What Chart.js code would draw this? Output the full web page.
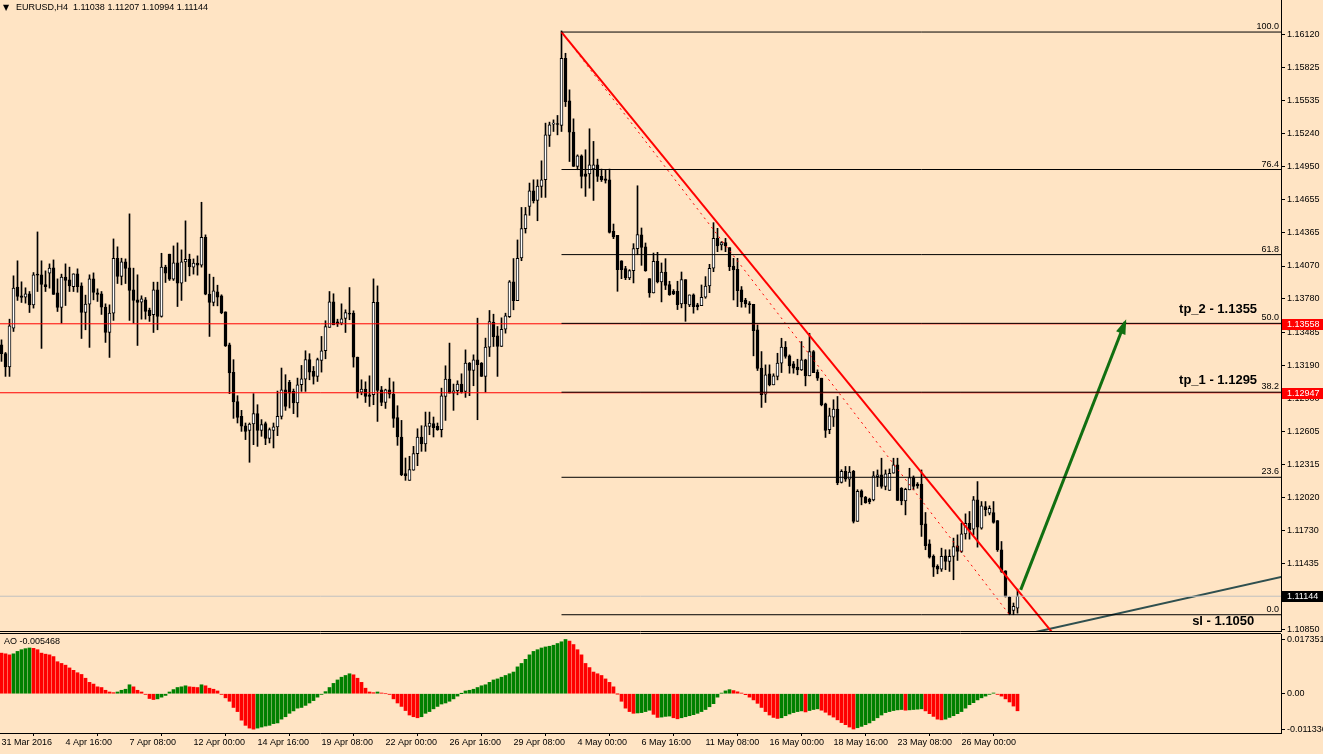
<!DOCTYPE html>
<html>
<head>
<meta charset="utf-8">
<script src="https://cdn.jsdelivr.net/npm/chart.js@4.4.0/dist/chart.umd.min.js"></script>
<style>
    html, body { margin: 0; padding: 0; background: #FFE4C4; overflow: hidden; }
    #wrap { position: relative; width: 1323px; height: 754px; }
    #main { position: absolute; left: 0; top: 0; }
    #ao { position: absolute; left: 0; top: 632px; }
</style>
</head>
<body>
<div id="wrap">
    <canvas id="main" width="1323" height="632"></canvas>
    <canvas id="ao" width="1323" height="122"></canvas>
</div>
<script>
const tickLabels = ['31 Mar 2016', '4 Apr 16:00', '7 Apr 08:00', '12 Apr 00:00', '14 Apr 16:00', '19 Apr 08:00',
    '22 Apr 00:00', '26 Apr 16:00', '29 Apr 08:00', '4 May 00:00', '6 May 16:00', '11 May 08:00',
    '16 May 00:00', '18 May 16:00', '23 May 08:00', '26 May 00:00']
const tickBars = [0, 16, 32, 48, 64, 80, 96, 112, 128, 144, 160, 176, 192, 208, 224, 240]

const priceTicks = [1.16120, 1.15825, 1.15535, 1.15240, 1.14950, 1.14655, 1.14365, 1.14070, 1.13780,
    1.13485, 1.13190, 1.12900, 1.12605, 1.12315, 1.12020, 1.11730, 1.11435, 1.10850]
const aoTicks = [0.017351, 0, -0.011336]

// EURUSD H4 candles, left to right
const opens = [
    1.13372, 1.13293, 1.13175, 1.13520, 1.13883, 1.13806, 1.13794, 1.13824, 1.13726, 1.13992,
    1.13992, 1.13906, 1.14006, 1.14054, 1.13832, 1.13703, 1.13971, 1.13947, 1.13888, 1.14001,
    1.13894, 1.13658, 1.13732, 1.13956, 1.13832, 1.13824, 1.13706, 1.13481, 1.13652, 1.14139,
    1.13977, 1.14107, 1.14054, 1.13859, 1.13770, 1.13750, 1.13770, 1.13679, 1.13638, 1.13859,
    1.13623, 1.14060, 1.14175, 1.13953, 1.14098, 1.13918, 1.14107, 1.14130, 1.14060, 1.14095,
    1.14077, 1.14325, 1.13821, 1.13747, 1.13841, 1.13806, 1.13664, 1.13372, 1.13127, 1.12868,
    1.12738, 1.12655, 1.12614, 1.12670, 1.12762, 1.12614, 1.12673, 1.12543, 1.12614, 1.12644,
    1.12738, 1.12974, 1.13039, 1.12959, 1.12856, 1.13018, 1.13068, 1.13240, 1.13136, 1.13092,
    1.13234, 1.13319, 1.13526, 1.13753, 1.13576, 1.13564, 1.13605, 1.13652, 1.13652, 1.13263,
    1.12953, 1.12979, 1.12929, 1.12929, 1.13749, 1.12974, 1.12861, 1.12974, 1.12935, 1.12726,
    1.12555, 1.12230, 1.12171, 1.12260, 1.12407, 1.12555, 1.12493, 1.12649, 1.12673, 1.12649,
    1.12620, 1.12914, 1.13068, 1.12944, 1.12965, 1.13024, 1.12959, 1.13209, 1.13145, 1.13239,
    1.13209, 1.13092, 1.13351, 1.13572, 1.13451, 1.13357, 1.13510, 1.13622, 1.13929, 1.13764,
    1.14141, 1.14401, 1.14598, 1.14737, 1.14651, 1.14775, 1.14834, 1.15227, 1.15327, 1.15330,
    1.15315, 1.15911, 1.15533, 1.15256, 1.14952, 1.15047, 1.14887, 1.14887, 1.14931, 1.14967,
    1.14864, 1.14843, 1.14834, 1.14377, 1.14342, 1.14117, 1.14047, 1.13964, 1.14029, 1.14224,
    1.14347, 1.14241, 1.13958, 1.13831, 1.14111, 1.13929, 1.14017, 1.13905, 1.13846, 1.13846,
    1.13734, 1.13949, 1.13725, 1.13814, 1.13725, 1.13719, 1.13793, 1.13893, 1.14050, 1.14315,
    1.14256, 1.14277, 1.14233, 1.14070, 1.14041, 1.13858, 1.13769, 1.13731, 1.13731, 1.13504,
    1.13165, 1.12935, 1.13115, 1.13017, 1.13091, 1.13209, 1.13351, 1.13274, 1.13203, 1.13174,
    1.13150, 1.13238, 1.13097, 1.13312, 1.13129, 1.13076, 1.12849, 1.12619, 1.12731, 1.12802,
    1.12153, 1.12250, 1.12182, 1.12250, 1.11808, 1.12078, 1.12022, 1.12004, 1.11998, 1.12204,
    1.12219, 1.12116, 1.12081, 1.12234, 1.12308, 1.12101, 1.11989, 1.12087, 1.12196, 1.12137,
    1.12137, 1.11786, 1.11609, 1.11497, 1.11408, 1.11384, 1.11503, 1.11452, 1.11497, 1.11591,
    1.11541, 1.11697, 1.11791, 1.11738, 1.11998, 1.11747, 1.11939, 1.11880, 1.11886, 1.11815,
    1.11556, 1.11370, 1.11137, 1.11018, 1.11038
]
const highs = [
    1.13416, 1.13304, 1.13599, 1.13983, 1.14116, 1.13930, 1.13877, 1.13844, 1.14012, 1.14372,
    1.14116, 1.14027, 1.14089, 1.14124, 1.13956, 1.13998, 1.14089, 1.14060, 1.14001, 1.14045,
    1.13921, 1.13812, 1.13992, 1.14009, 1.13868, 1.13844, 1.13735, 1.13726, 1.14310, 1.14240,
    1.14139, 1.14133, 1.14532, 1.14051, 1.13992, 1.13806, 1.13791, 1.13697, 1.13927, 1.13927,
    1.14183, 1.14077, 1.14175, 1.14248, 1.14275, 1.14213, 1.14470, 1.14175, 1.14133, 1.14160,
    1.14635, 1.14346, 1.13998, 1.13971, 1.13900, 1.13815, 1.13664, 1.13387, 1.13240, 1.12921,
    1.12791, 1.12679, 1.12679, 1.12939, 1.12841, 1.12709, 1.12688, 1.12635, 1.12679, 1.12962,
    1.13166, 1.13107, 1.13057, 1.12980, 1.13077, 1.13189, 1.13319, 1.13293, 1.13180, 1.13254,
    1.13446, 1.13585, 1.13844, 1.13824, 1.13599, 1.13735, 1.13682, 1.13879, 1.13673, 1.13263,
    1.13062, 1.13044, 1.13097, 1.13956, 1.13894, 1.13003, 1.12979, 1.13077, 1.13044, 1.12832,
    1.12702, 1.12369, 1.12384, 1.12472, 1.12628, 1.12655, 1.12776, 1.12776, 1.12732, 1.12679,
    1.12988, 1.13186, 1.13387, 1.13024, 1.13053, 1.13115, 1.13327, 1.13215, 1.13283, 1.13608,
    1.13215, 1.13431, 1.13676, 1.13643, 1.13534, 1.13611, 1.13652, 1.13941, 1.14136, 1.14301,
    1.14589, 1.14589, 1.14805, 1.14834, 1.14834, 1.15002, 1.15336, 1.15345, 1.15365, 1.15404,
    1.16153, 1.15955, 1.15631, 1.15374, 1.15055, 1.15055, 1.15100, 1.15286, 1.15174, 1.15017,
    1.14929, 1.14923, 1.14929, 1.14442, 1.14342, 1.14117, 1.14067, 1.14038, 1.14268, 1.14781,
    1.14407, 1.14274, 1.13958, 1.14185, 1.14191, 1.14097, 1.14135, 1.13935, 1.13861, 1.13935,
    1.14017, 1.13949, 1.13814, 1.13823, 1.13740, 1.13902, 1.13976, 1.14085, 1.14454, 1.14404,
    1.14286, 1.14315, 1.14233, 1.14138, 1.14138, 1.13888, 1.13784, 1.13755, 1.13731, 1.13548,
    1.13312, 1.13194, 1.13194, 1.13115, 1.13297, 1.13430, 1.13401, 1.13283, 1.13224, 1.13244,
    1.13401, 1.13244, 1.13474, 1.13321, 1.13150, 1.13076, 1.12855, 1.12811, 1.12885, 1.12914,
    1.12265, 1.12294, 1.12294, 1.12259, 1.12088, 1.12087, 1.12028, 1.12013, 1.12249, 1.12263,
    1.12367, 1.12263, 1.12272, 1.12367, 1.12367, 1.12107, 1.12101, 1.12278, 1.12210, 1.12151,
    1.12263, 1.11886, 1.11644, 1.11511, 1.11423, 1.11570, 1.11556, 1.11556, 1.11659, 1.11688,
    1.11791, 1.11874, 1.11895, 1.12028, 1.12160, 1.11983, 1.11983, 1.11945, 1.11983, 1.11815,
    1.11629, 1.11370, 1.11143, 1.11084, 1.11207
]
const lows = [
    1.13225, 1.13092, 1.13092, 1.13490, 1.13765, 1.13747, 1.13741, 1.13658, 1.13697, 1.13844,
    1.13340, 1.13844, 1.13874, 1.13818, 1.13667, 1.13564, 1.13720, 1.13844, 1.13844, 1.13838,
    1.13428, 1.13505, 1.13349, 1.13770, 1.13756, 1.13641, 1.13393, 1.13260, 1.13588, 1.13915,
    1.13903, 1.13915, 1.13588, 1.13564, 1.13366, 1.13599, 1.13599, 1.13579, 1.13481, 1.13505,
    1.13617, 1.13924, 1.13942, 1.13942, 1.13711, 1.13765, 1.13933, 1.13983, 1.13998, 1.13989,
    1.14060, 1.13815, 1.13446, 1.13717, 1.13717, 1.13647, 1.13357, 1.12939, 1.12720, 1.12679,
    1.12605, 1.12532, 1.12331, 1.12487, 1.12472, 1.12561, 1.12487, 1.12502, 1.12458, 1.12567,
    1.12714, 1.12791, 1.12812, 1.12762, 1.12732, 1.12959, 1.12959, 1.13062, 1.13024, 1.13047,
    1.13130, 1.13248, 1.13526, 1.13549, 1.13534, 1.13549, 1.13481, 1.13594, 1.13174, 1.12900,
    1.12929, 1.12861, 1.12826, 1.12841, 1.12693, 1.12832, 1.12808, 1.12900, 1.12640, 1.12481,
    1.12212, 1.12171, 1.12171, 1.12260, 1.12301, 1.12428, 1.12428, 1.12575, 1.12555, 1.12614,
    1.12555, 1.12702, 1.12944, 1.12791, 1.12929, 1.12944, 1.12906, 1.12921, 1.13009, 1.12708,
    1.13091, 1.12953, 1.13268, 1.13357, 1.13092, 1.13357, 1.13475, 1.13614, 1.13682, 1.13764,
    1.14117, 1.14362, 1.14519, 1.14628, 1.14471, 1.14678, 1.14678, 1.15129, 1.15262, 1.15232,
    1.15262, 1.15483, 1.14996, 1.14952, 1.14923, 1.14761, 1.14687, 1.14760, 1.14651, 1.14819,
    1.14819, 1.14805, 1.14362, 1.14312, 1.13846, 1.13958, 1.13949, 1.13949, 1.13920, 1.14170,
    1.14076, 1.14023, 1.13793, 1.13831, 1.13920, 1.13752, 1.13861, 1.13810, 1.13816, 1.13684,
    1.13699, 1.13580, 1.13710, 1.13652, 1.13681, 1.13719, 1.13784, 1.13834, 1.14020, 1.14197,
    1.14212, 1.14197, 1.14029, 1.13769, 1.13710, 1.13705, 1.13705, 1.13651, 1.13274, 1.13144,
    1.12817, 1.12861, 1.13008, 1.13017, 1.13061, 1.13126, 1.13253, 1.13120, 1.13120, 1.13106,
    1.13144, 1.13008, 1.13097, 1.13126, 1.13056, 1.12831, 1.12551, 1.12584, 1.12648, 1.12132,
    1.12147, 1.12162, 1.12117, 1.11793, 1.11808, 1.11954, 1.11968, 1.11963, 1.11989, 1.12116,
    1.12101, 1.12087, 1.12081, 1.12234, 1.11992, 1.11954, 1.11865, 1.12087, 1.12087, 1.12101,
    1.11674, 1.11556, 1.11482, 1.11319, 1.11343, 1.11364, 1.11379, 1.11364, 1.11290, 1.11461,
    1.11532, 1.11650, 1.11650, 1.11688, 1.11579, 1.11738, 1.11856, 1.11865, 1.11791, 1.11541,
    1.11355, 1.11137, 1.10980, 1.10980, 1.10994
]
const closes = [
    1.13293, 1.13175, 1.13540, 1.13874, 1.13800, 1.13791, 1.13824, 1.13726, 1.13992, 1.13989,
    1.13906, 1.13888, 1.14051, 1.13818, 1.13703, 1.13971, 1.13942, 1.13894, 1.14001, 1.13888,
    1.13658, 1.13732, 1.13956, 1.13835, 1.13818, 1.13706, 1.13481, 1.13652, 1.14139, 1.13977,
    1.14107, 1.14048, 1.13853, 1.13765, 1.13747, 1.13779, 1.13667, 1.13629, 1.13859, 1.13623,
    1.14060, 1.14006, 1.13953, 1.14098, 1.13918, 1.14107, 1.14130, 1.14065, 1.14095, 1.14077,
    1.14325, 1.13821, 1.13747, 1.13850, 1.13794, 1.13656, 1.13363, 1.13122, 1.12865, 1.12729,
    1.12650, 1.12605, 1.12670, 1.12762, 1.12614, 1.12664, 1.12543, 1.12620, 1.12646, 1.12738,
    1.12974, 1.12826, 1.12944, 1.12856, 1.13018, 1.13071, 1.13240, 1.13130, 1.13092, 1.13240,
    1.13319, 1.13534, 1.13753, 1.13549, 1.13558, 1.13602, 1.13658, 1.13644, 1.13263, 1.12953,
    1.12979, 1.12915, 1.12914, 1.13749, 1.12968, 1.12861, 1.12974, 1.12935, 1.12720, 1.12555,
    1.12221, 1.12212, 1.12266, 1.12407, 1.12555, 1.12493, 1.12655, 1.12679, 1.12637, 1.12620,
    1.12920, 1.13068, 1.12944, 1.12965, 1.13024, 1.12953, 1.13210, 1.13145, 1.13239, 1.13195,
    1.13091, 1.13351, 1.13578, 1.13445, 1.13357, 1.13510, 1.13628, 1.13929, 1.13764, 1.14139,
    1.14401, 1.14525, 1.14737, 1.14648, 1.14778, 1.14834, 1.15233, 1.15321, 1.15330, 1.15324,
    1.15911, 1.15527, 1.15256, 1.14952, 1.15047, 1.14864, 1.14864, 1.14967, 1.14967, 1.14864,
    1.14834, 1.14828, 1.14368, 1.14327, 1.14038, 1.14038, 1.13964, 1.14029, 1.14224, 1.14348,
    1.14235, 1.14029, 1.13831, 1.14111, 1.13929, 1.14017, 1.13899, 1.13817, 1.13823, 1.13728,
    1.13949, 1.13734, 1.13814, 1.13710, 1.13710, 1.13793, 1.13893, 1.14050, 1.14315, 1.14247,
    1.14277, 1.14247, 1.14064, 1.14035, 1.13852, 1.13755, 1.13734, 1.13728, 1.13498, 1.13162,
    1.12929, 1.13106, 1.13017, 1.13097, 1.13209, 1.13351, 1.13268, 1.13185, 1.13165, 1.13150,
    1.13238, 1.13097, 1.13312, 1.13126, 1.13076, 1.12840, 1.12613, 1.12743, 1.12802, 1.12147,
    1.12250, 1.12182, 1.12244, 1.11808, 1.12073, 1.12022, 1.11974, 1.11983, 1.12210, 1.12219,
    1.12116, 1.12228, 1.12234, 1.12308, 1.11992, 1.11989, 1.12092, 1.12196, 1.12116, 1.12122,
    1.11777, 1.11591, 1.11491, 1.11402, 1.11384, 1.11497, 1.11452, 1.11497, 1.11585, 1.11541,
    1.11697, 1.11791, 1.11732, 1.11998, 1.11756, 1.11945, 1.11910, 1.11924, 1.11797, 1.11556,
    1.11364, 1.11143, 1.10989, 1.11054, 1.11144
]

// Awesome Oscillator, one value per candle
const aoValues = [
    0.01298, 0.01276, 0.01243, 0.01276, 0.01353, 0.01408, 0.01441, 0.01463, 0.01452, 0.01408,
    0.01298, 0.01265, 0.01243, 0.01188, 0.01023, 0.00968, 0.00913, 0.00825, 0.00748, 0.00671,
    0.00616, 0.00495, 0.00363, 0.00308, 0.00220, 0.00198, 0.00110, 0.00055, 0.00033, 0.00055,
    0.00110, 0.00143, 0.00286, 0.00220, 0.00110, 0.00055, -0.00022, -0.00154, -0.00187, -0.00165,
    -0.00110, -0.00055, 0.00055, 0.00132, 0.00198, 0.00220, 0.00253, 0.00220, 0.00209, 0.00198,
    0.00286, 0.00253, 0.00176, 0.00143, 0.00088, -0.00022, -0.00132, -0.00242, -0.00440, -0.00572,
    -0.00847, -0.01012, -0.01100, -0.01134, -0.01100, -0.01067, -0.01034, -0.01012, -0.00957, -0.00935,
    -0.00814, -0.00737, -0.00627, -0.00550, -0.00462, -0.00440, -0.00374, -0.00297, -0.00220, -0.00110,
    -0.00022, 0.00066, 0.00198, 0.00330, 0.00440, 0.00528, 0.00583, 0.00638, 0.00605, 0.00495,
    0.00363, 0.00176, 0.00055, 0.00033, 0.00055, 0.00022, 0.00000, -0.00022, -0.00165, -0.00297,
    -0.00407, -0.00539, -0.00682, -0.00737, -0.00770, -0.00737, -0.00627, -0.00572, -0.00484, -0.00407,
    -0.00330, -0.00297, -0.00242, -0.00165, -0.00077, 0.00002, 0.00088, 0.00110, 0.00143, 0.00198,
    0.00253, 0.00286, 0.00363, 0.00440, 0.00473, 0.00528, 0.00583, 0.00638, 0.00693, 0.00858,
    0.00968, 0.01100, 0.01243, 0.01353, 0.01408, 0.01463, 0.01496, 0.01518, 0.01551, 0.01606,
    0.01661, 0.017351, 0.01683, 0.01573, 0.01408, 0.01243, 0.00968, 0.00836, 0.00693, 0.00638,
    0.00583, 0.00473, 0.00363, 0.00220, -0.00003, -0.00242, -0.00462, -0.00572, -0.00627, -0.00616,
    -0.00605, -0.00572, -0.00528, -0.00660, -0.00759, -0.00748, -0.00726, -0.00715, -0.00770, -0.00803,
    -0.00770, -0.00737, -0.00704, -0.00671, -0.00627, -0.00572, -0.00506, -0.00418, -0.00319, -0.00110,
    0.00020, 0.00090, 0.00130, 0.00100, 0.00060, 0.00020, -0.00030, -0.00110, -0.00198, -0.00308,
    -0.00440, -0.00572, -0.00682, -0.00759, -0.00792, -0.00770, -0.00704, -0.00649, -0.00605, -0.00572,
    -0.00550, -0.00583, -0.00539, -0.00506, -0.00484, -0.00528, -0.00594, -0.00682, -0.00748, -0.00836,
    -0.00924, -0.00990, -0.01067, -0.01130, -0.01089, -0.01045, -0.00990, -0.00935, -0.00858, -0.00770,
    -0.00682, -0.00605, -0.00572, -0.00539, -0.00517, -0.00506, -0.00528, -0.00517, -0.00506, -0.00495,
    -0.00484, -0.00550, -0.00638, -0.00726, -0.00814, -0.00836, -0.00814, -0.00759, -0.00704, -0.00638,
    -0.00572, -0.00462, -0.00352, -0.00286, -0.00198, -0.00132, -0.00077, -0.00022, 0.00022, -0.00022,
    -0.00077, -0.00165, -0.00264, -0.00396, -0.005468
]

// Fibonacci retracement drawn from the 3 May high to the 30 May low
const fibStart = { bar: 140, price: 1.16143 }
const fibEnd = { bar: 252, price: 1.10980 }
const fibLevels = [1.16143, 1.14925, 1.14171, 1.13562, 1.12952, 1.12198, 1.10980]
const fibNames = ['100.0', '76.4', '61.8', '50.0', '38.2', '23.6', '0.0']

const targetLevels = [1.13558, 1.12947]
const lastPrice = 1.11144

const trendLine = [{ x: 140, y: 1.16143 }, { x: 264, y: 1.10766 }]
const supportLine = [{ x: 257, y: 1.10815 }, { x: 320, y: 1.11316 }]
const arrowLine = [{ x: 254.8, y: 1.11200 }, { x: 280.9, y: 1.13574 }]

const notes = [
    { text: 'tp_2 - 1.1355', bar: 313.9, price: 1.13630 },
    { text: 'tp_1 - 1.1295', bar: 313.9, price: 1.13002 },
    { text: 'sl - 1.1050', bar: 313.2, price: 1.10866 }
]
const axisMarks = [
    { price: 1.13558, color: '#ff0000' },
    { price: 1.12947, color: '#ff0000' },
    { price: 1.11144, color: '#000000' }
]

const fontName = '"Liberation Sans", Arial, sans-serif'
const xMin = -0.375
const xMax = xMin + 1281 / 4
const arrowGreen = '#116f11'

Chart.defaults.font.family = fontName
Chart.defaults.font.size = 9
Chart.defaults.color = '#000'

function straight(data, color, width, dash) {
    return {
        type: 'line',
        data: data,
        borderColor: color,
        borderWidth: width,
        borderDash: dash || [],
        pointRadius: 0,
        tension: 0,
        order: 0
    }
}

function fixAxisWidth(scale) {
    scale.width = 42
    scale.paddingTop = 0
    scale.paddingBottom = 0
}

const mainDecor = {
    id: 'mainDecor',
    afterDraw(chart) {
        const ctx = chart.ctx
        const area = chart.chartArea
        const x = chart.scales.x
        const y = chart.scales.y

        ctx.save()
        // bottom border of the price window
        ctx.strokeStyle = '#000'
        ctx.lineWidth = 1
        ctx.beginPath()
        ctx.moveTo(0, area.bottom + 0.5)
        ctx.lineTo(area.right, area.bottom + 0.5)
        ctx.stroke()

        // arrow head
        const x1 = x.getPixelForValue(arrowLine[0].x)
        const y1 = y.getPixelForValue(arrowLine[0].y)
        const x2 = x.getPixelForValue(arrowLine[1].x)
        const y2 = y.getPixelForValue(arrowLine[1].y)
        const angle = Math.atan2(y2 - y1, x2 - x1)
        ctx.fillStyle = arrowGreen
        ctx.beginPath()
        ctx.moveTo(x2 + 3 * Math.cos(angle), y2 + 3 * Math.sin(angle))
        ctx.lineTo(x2 - 12 * Math.cos(angle) + 5 * Math.sin(angle), y2 - 12 * Math.sin(angle) - 5 * Math.cos(angle))
        ctx.lineTo(x2 - 12 * Math.cos(angle) - 5 * Math.sin(angle), y2 - 12 * Math.sin(angle) + 5 * Math.cos(angle))
        ctx.closePath()
        ctx.fill()

        // fibo level names
        ctx.font = '9px ' + fontName
        ctx.fillStyle = '#000'
        ctx.textAlign = 'right'
        ctx.textBaseline = 'bottom'
        fibLevels.forEach((level, i) => {
            ctx.fillText(fibNames[i], area.right - 2, Math.round(y.getPixelForValue(level)) - 1)
        })

        // text objects
        ctx.font = 'bold 13px ' + fontName
        notes.forEach(note => {
            ctx.fillText(note.text, x.getPixelForValue(note.bar), y.getPixelForValue(note.price))
        })

        // price marks on the axis
        ctx.font = '9px ' + fontName
        ctx.textAlign = 'left'
        ctx.textBaseline = 'middle'
        axisMarks.forEach(mark => {
            const py = Math.round(y.getPixelForValue(mark.price))
            ctx.fillStyle = mark.color
            ctx.fillRect(area.right + 1, py - 5, 41, 11)
            ctx.fillStyle = '#fff'
            ctx.fillText(mark.price.toFixed(5), area.right + 6, py + 0.5)
        })

        // header
        ctx.fillStyle = '#000'
        ctx.font = '8px "DejaVu Sans", sans-serif'
        ctx.fillText('\u25BC', 3, 8)
        ctx.font = '9px ' + fontName
        ctx.fillText('EURUSD,H4  1.11038 1.11207 1.10994 1.11144', 16, 8)
        ctx.restore()
    }
}

new Chart(document.getElementById('main'), {
    type: 'bar',
    data: {
        datasets: [
            {
                label: 'wicks',
                data: highs.map((h, i) => ({ x: i, y: [lows[i], h] })),
                backgroundColor: '#000',
                barThickness: 1,
                grouped: false,
                order: 2
            },
            {
                label: 'bodies',
                data: opens.map((o, i) => ({ x: i, y: [o, closes[i]] })),
                backgroundColor: opens.map((o, i) => closes[i] >= o ? '#ffffff' : '#000000'),
                borderColor: '#000',
                borderWidth: 1,
                borderSkipped: false,
                barThickness: 3,
                minBarLength: 1,
                grouped: false,
                order: 1
            },
            straight([{ x: xMin, y: lastPrice }, { x: xMax, y: lastPrice }], '#c0c0c0', 1),
            ...fibLevels.map(level => straight([{ x: fibStart.bar, y: level }, { x: xMax, y: level }], '#000', 1)),
            ...targetLevels.map(level => straight([{ x: xMin, y: level }, { x: xMax, y: level }], '#ff0000', 1)),
            straight([{ x: fibStart.bar, y: fibStart.price }, { x: fibEnd.bar, y: fibEnd.price }], '#ff0000', 1, [2, 4]),
            straight(trendLine, '#ff0000', 2),
            straight(supportLine, '#2f4f4f', 2),
            straight(arrowLine, arrowGreen, 3)
        ]
    },
    options: {
        responsive: false,
        animation: false,
        layout: { padding: { top: 0, bottom: 1, left: 0, right: 0 } },
        plugins: { legend: { display: false }, tooltip: { enabled: false } },
        scales: {
            x: {
                type: 'linear',
                min: xMin,
                max: xMax,
                offset: false,
                display: false
            },
            y: {
                type: 'linear',
                position: 'right',
                min: 1.10836,
                max: 1.16427,
                afterBuildTicks: scale => { scale.ticks = priceTicks.map(v => ({ value: v })) },
                afterFit: fixAxisWidth,
                ticks: {
                    padding: 2,
                    callback: v => v.toFixed(5)
                },
                grid: { drawOnChartArea: false, tickLength: 4, color: '#000' },
                border: { display: true, color: '#000' }
            }
        }
    },
    plugins: [mainDecor]
})

const aoDecor = {
    id: 'aoDecor',
    afterDraw(chart) {
        const ctx = chart.ctx
        const area = chart.chartArea
        ctx.save()
        ctx.strokeStyle = '#000'
        ctx.lineWidth = 1
        ctx.beginPath()
        ctx.moveTo(0, area.top - 0.5)
        ctx.lineTo(area.right, area.top - 0.5)
        ctx.stroke()
        ctx.fillStyle = '#000'
        ctx.font = '9px ' + fontName
        ctx.textBaseline = 'middle'
        ctx.fillText('AO ' + aoValues[aoValues.length - 1].toFixed(6), 4, area.top + 8)
        ctx.restore()
    }
}

new Chart(document.getElementById('ao'), {
    type: 'bar',
    data: {
        datasets: [{
            label: 'AO',
            data: aoValues.map((v, i) => ({ x: i, y: v })),
            backgroundColor: aoValues.map((v, i) => i > 0 && v > aoValues[i - 1] ? '#008000' : '#ff0000'),
            barThickness: 3,
            grouped: false
        }]
    },
    options: {
        responsive: false,
        animation: false,
        layout: { padding: { top: 2, bottom: 0, left: 0, right: 0 } },
        plugins: { legend: { display: false }, tooltip: { enabled: false } },
        scales: {
            x: {
                type: 'linear',
                min: xMin,
                max: xMax,
                offset: false,
                afterBuildTicks: scale => { scale.ticks = tickBars.map(v => ({ value: v })) },
                afterFit: scale => {
                    scale.height = 21
                    scale.paddingLeft = 0
                    scale.paddingRight = 0
                },
                ticks: {
                    align: 'start',
                    maxRotation: 0,
                    autoSkip: false,
                    padding: 1,
                    callback: (v, i) => tickLabels[i]
                },
                grid: { drawOnChartArea: false, tickLength: 3, color: '#000' },
                border: { display: true, color: '#000' }
            },
            y: {
                type: 'linear',
                position: 'right',
                min: -0.01257,
                max: 0.0191,
                afterBuildTicks: scale => { scale.ticks = aoTicks.map(v => ({ value: v })) },
                afterFit: fixAxisWidth,
                ticks: {
                    padding: 2,
                    callback: v => v === 0 ? '0.00' : v.toFixed(6)
                },
                grid: { drawOnChartArea: false, tickLength: 4, color: '#000' },
                border: { display: true, color: '#000' }
            }
        }
    },
    plugins: [aoDecor]
})
</script>
</body>
</html>
